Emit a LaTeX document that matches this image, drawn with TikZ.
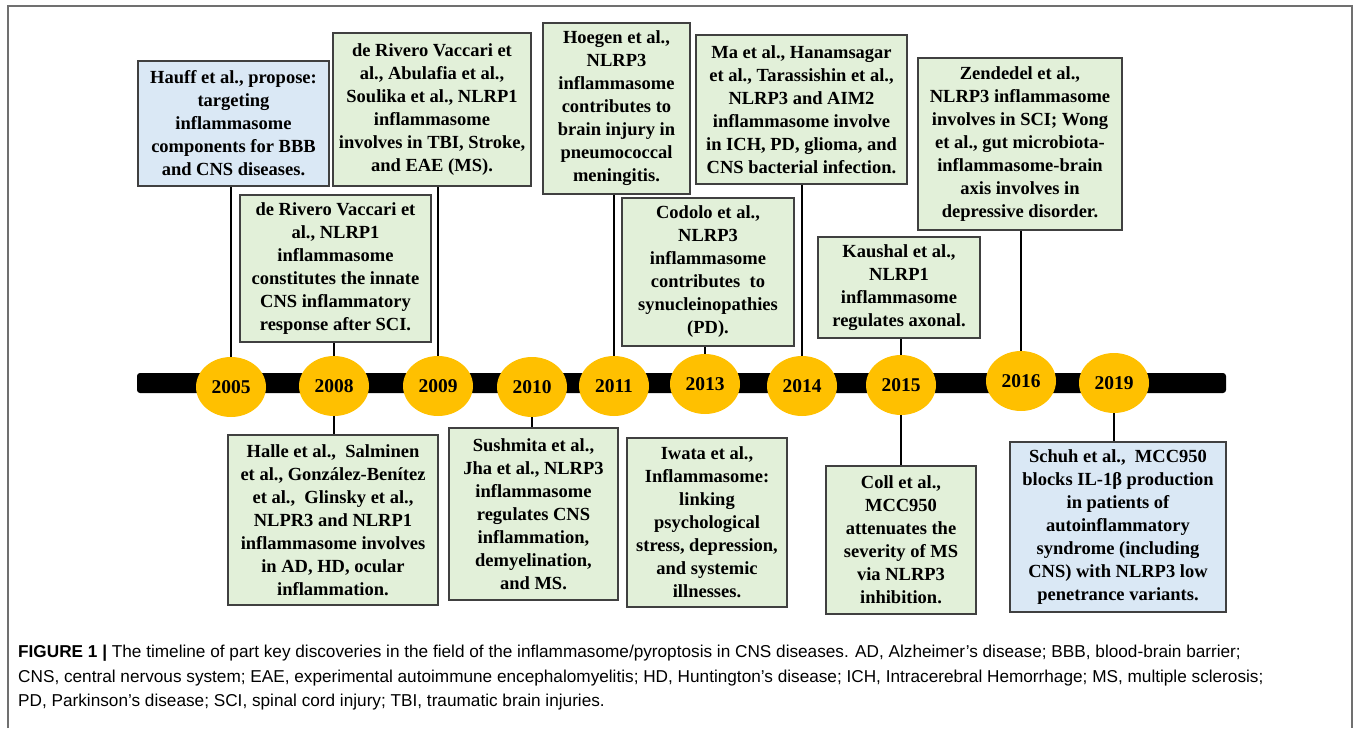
\documentclass[tikz,border=0pt]{standalone}
\usepackage{fontspec}
\setmainfont{Liberation Serif}
\setsansfont{Liberation Sans}
\usetikzlibrary{shapes.geometric}
\definecolor{boxgreen}{HTML}{E2F0D9}
\definecolor{boxblue}{HTML}{DAE8F5}
\definecolor{yeargold}{HTML}{FFC000}
\definecolor{framegray}{HTML}{707070}
\definecolor{boxedge}{HTML}{404040}
\begin{document}
\begin{tikzpicture}[x=1pt,y=-1pt,
	event/.style={draw=boxedge,line width=1.4pt,fill=boxgreen,align=center,inner sep=3pt,font=\fontsize{18.5}{23}\selectfont\bfseries},
	eventblue/.style={event,fill=boxblue},
	year/.style={ellipse,fill=yeargold,minimum width=70pt,minimum height=60pt,inner sep=0pt,font=\fontsize{19.5}{22}\selectfont\bfseries},
	conn/.style={line width=2.5pt},
	capline/.style={anchor=base west,inner sep=0pt,font=\fontsize{17.2}{24}\selectfont\sffamily}]
	\useasboundingbox (0,0) rectangle (1354,728);
	\draw[framegray,line width=1.5pt] (8,728) -- (8,6) -- (1352,6) -- (1352,728);
	\node[fill=black,rounded corners=3pt,minimum width=1089pt,minimum height=20pt,inner sep=0pt] (bar) at (681.5,383) {};

	\node[eventblue,minimum width=191pt,minimum height=125pt] (hauff) at (233.5,123.5) {Hauff et al., propose:\\targeting\\inflammasome\\components for BBB\\and CNS diseases.};
	\node[event,minimum width=198pt,minimum height=153pt] (vaccari) at (432,109.5) {de Rivero Vaccari et\\al., Abulafia et al.,\\Soulika et al., NLRP1\\inflammasome\\involves in TBI, Stroke,\\and EAE (MS).};
	\node[event,minimum width=147pt,minimum height=171pt] (hoegen) at (616.5,108.5) {Hoegen et al.,\\NLRP3\\inflammasome\\contributes to\\brain injury in\\pneumococcal\\meningitis.};
	\node[event,minimum width=211pt,minimum height=149pt] (ma) at (801.5,109.5) {Ma et al., Hanamsagar\\et al., Tarassishin et al.,\\NLRP3 and AIM2\\inflammasome involve\\in ICH, PD, glioma, and\\CNS bacterial infection.};
	\node[event,minimum width=204pt,minimum height=172pt] (zendedel) at (1020,144) {Zendedel et al.,\\NLRP3 inflammasome\\involves in SCI; Wong\\et al., gut microbiota-\\inflammasome-brain\\axis involves in\\depressive disorder.};
	\node[event,minimum width=191pt,minimum height=147pt] (vaccarisci) at (335.5,268.5) {de Rivero Vaccari et\\al., NLRP1\\inflammasome\\constitutes the innate\\CNS inflammatory\\response after SCI.};
	\node[event,minimum width=172pt,minimum height=148pt] (codolo) at (708,272) {Codolo et al.,\\NLRP3\\inflammasome\\contributes\ \ to\\synucleinopathies\\(PD).};
	\node[event,minimum width=162pt,minimum height=101pt] (kaushal) at (899,287.5) {Kaushal et al.,\\NLRP1\\inflammasome\\regulates axonal.};

	\node[event,minimum width=210pt,minimum height=170pt] (halle) at (333,520) {Halle et al.,\ \ Salminen\\et al., González-Benítez\\et al.,\ \ Glinsky et al.,\\NLPR3 and NLRP1\\inflammasome involves\\in AD, HD, ocular\\inflammation.};
	\node[event,minimum width=169pt,minimum height=172pt] (sushmita) at (533.5,514) {Sushmita et al.,\\Jha et al., NLRP3\\inflammasome\\regulates CNS\\inflammation,\\demyelination,\\and MS.};
	\node[event,minimum width=160pt,minimum height=169pt] (iwata) at (707,522.5) {Iwata et al.,\\Inflammasome:\\linking\\psychological\\stress, depression,\\and systemic\\illnesses.};
	\node[event,minimum width=150pt,minimum height=148pt] (coll) at (901,540) {Coll et al.,\\MCC950\\attenuates the\\severity of MS\\via NLRP3\\inhibition.};
	\node[eventblue,minimum width=216pt,minimum height=170pt] (schuh) at (1118,527) {Schuh et al.,\ \ MCC950\\blocks IL-1β production\\in patients of\\autoinflammatory\\syndrome (including\\CNS) with NLRP3 low\\penetrance variants.};

	\node[year] (y2005) at (231,387) {2005};
	\node[year] (y2008) at (334,386) {2008};
	\node[year] (y2009) at (438,386) {2009};
	\node[year] (y2010) at (532,387) {2010};
	\node[year] (y2011) at (614,386) {2011};
	\node[year] (y2013) at (705,384) {2013};
	\node[year] (y2014) at (802,386) {2014};
	\node[year] (y2015) at (901,385) {2015};
	\node[year] (y2016) at (1021,381) {2016};
	\node[year] (y2019) at (1114,383) {2019};

	\draw[conn] (y2005.north) -- (y2005 |- hauff.south);
	\draw[conn] (y2008.north) -- (y2008 |- vaccarisci.south);
	\draw[conn] (y2009.north) -- (y2009 |- vaccari.south);
	\draw[conn] (y2011.north) -- (y2011 |- hoegen.south);
	\draw[conn] (y2013.north) -- (y2013 |- codolo.south);
	\draw[conn] (y2014.north) -- (y2014 |- ma.south);
	\draw[conn] (y2015.north) -- (y2015 |- kaushal.south);
	\draw[conn] (y2016.north) -- (y2016 |- zendedel.south);
	\draw[conn] (y2008.south) -- (y2008 |- halle.north);
	\draw[conn] (y2010.south) -- (y2010 |- sushmita.north);
	\draw[conn] (y2015.south) -- (y2015 |- coll.north);
	\draw[conn] (y2019.south) -- (y2019 |- schuh.north);

	\node[capline] (cap1) at (18,657) {\textbf{FIGURE 1 |} The timeline of part key discoveries in the field of the inflammasome/pyroptosis in CNS diseases. AD, Alzheimer’s disease; BBB, blood-brain barrier;};
	\node[capline] (cap2) at (18,682) {CNS, central nervous system; EAE, experimental autoimmune encephalomyelitis; HD, Huntington’s disease; ICH, Intracerebral Hemorrhage; MS, multiple sclerosis;};
	\node[capline] (cap3) at (18,706) {PD, Parkinson’s disease; SCI, spinal cord injury; TBI, traumatic brain injuries.};
\end{tikzpicture}
\end{document}
